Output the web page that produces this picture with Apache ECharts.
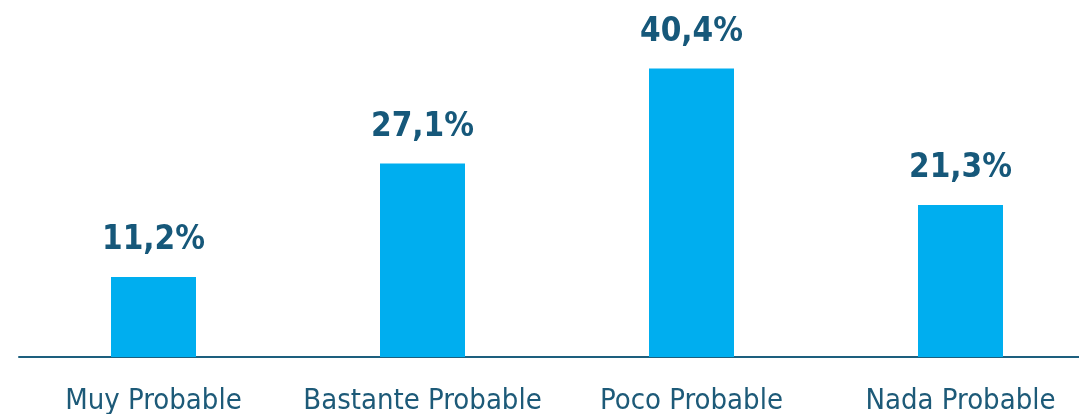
<!DOCTYPE html>
<html>
<head>
<meta charset="utf-8">
<script src="https://cdn.jsdelivr.net/npm/echarts@6/dist/echarts.min.js"></script>
<style>
  html, body { margin: 0; padding: 0; background: #fff; }
  #chart { width: 1079px; height: 414px; }
</style>
</head>
<body>
<div id="chart"></div>
<script>
const categories = ['Muy Probable', 'Bastante Probable', 'Poco Probable', 'Nada Probable'];
const values = [11.2, 27.1, 40.4, 21.3];

const chart = echarts.init(document.getElementById('chart'));

const font = '"Liberation Sans Narrow", "DejaVu Sans Condensed", sans-serif';

const option = {
  animation: false,
  grid: { left: 19, width: 1076, top: 0, bottom: 57, outerBoundsMode: 'none', containLabel: false },
  xAxis: {
    type: 'category',
    data: categories,
    axisLine: { lineStyle: { color: '#1d5f7e', width: 2 } },
    axisTick: { show: false },
    axisLabel: {
      interval: 0,
      color: '#1d5a78',
      fontFamily: font,
      fontSize: 29,
      margin: 30
    }
  },
  yAxis: {
    type: 'value',
    min: 0,
    max: 50,
    show: false,
    splitLine: { show: false }
  },
  series: [{
    type: 'bar',
    data: values,
    barWidth: 85,
    itemStyle: { color: '#00aeef' },
    label: {
      show: true,
      position: 'top',
      distance: 20,
      color: '#16587a',
      fontFamily: font,
      fontWeight: 'bold',
      fontSize: 33,
      formatter: p => p.value.toFixed(1).replace('.', ',') + '%'
    }
  }]
};

chart.setOption(option);
</script>
</body>
</html>
